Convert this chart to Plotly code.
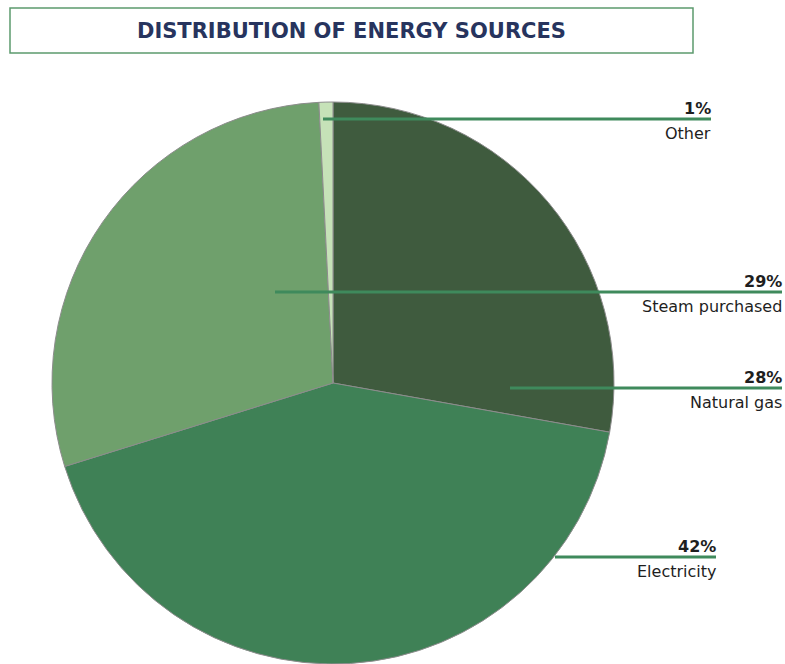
import plotly.graph_objects as go

W, H = 785, 664

sources = ['Natural gas', 'Electricity', 'Steam purchased', 'Other']
shares = [27.8, 42.4, 29.0, 0.8]
colors = ['#3f5b3e', '#3f8156', '#6fa06c', '#c6e2b8']

# label layout: right edge x, line y, line start x (pixels)
label_pos = {
    'Other': (711, 119, 323),
    'Steam purchased': (782, 292, 275),
    'Natural gas': (782, 388, 510),
    'Electricity': (716, 557, 555),
}


def fx(x):
    return x / W


def fy(y):
    return 1 - y / H


fig = go.Figure(go.Pie(
    labels=sources,
    values=shares,
    sort=False,
    direction='clockwise',
    rotation=0,
    marker=dict(colors=colors, line=dict(color='#8c8c8c', width=1)),
    textinfo='none',
    hoverinfo='label+percent',
    domain=dict(x=[fx(52), fx(614)], y=[0, fy(102)]),
    showlegend=False,
))

label_font = dict(family='DejaVu Sans', size=16, color='#1e1e1e')

total = sum(shares)
shapes = []
annotations = []
for name, val in zip(sources, shares):
    xr, yl, xs = label_pos[name]
    shapes.append(dict(type='line', xref='paper', yref='paper',
                       x0=fx(xs), x1=fx(xr), y0=fy(yl), y1=fy(yl),
                       line=dict(color='#3f8a5c', width=3)))
    annotations.append(dict(xref='paper', yref='paper', x=fx(xr + 2), y=fy(yl + 1),
                            xanchor='right', yanchor='bottom', showarrow=False,
                            text='<b>%d%%</b>' % round(val / total * 100),
                            font=label_font))
    annotations.append(dict(xref='paper', yref='paper', x=fx(xr + 2), y=fy(yl + 3),
                            xanchor='right', yanchor='top', showarrow=False,
                            text=name, font=label_font))

# title box
shapes.append(dict(type='rect', xref='paper', yref='paper',
                   x0=fx(10), x1=fx(693), y0=fy(53), y1=fy(8),
                   line=dict(color='#5c9a6e', width=1.5), fillcolor='white'))
annotations.append(dict(xref='paper', yref='paper', x=fx(351), y=fy(31),
                        xanchor='center', yanchor='middle', showarrow=False,
                        text='<b>DISTRIBUTION OF ENERGY SOURCES</b>',
                        font=dict(family='DejaVu Sans', size=21, color='#27345e')))

fig.update_layout(
    width=W, height=H,
    margin=dict(l=0, r=0, t=0, b=0),
    paper_bgcolor='white',
    plot_bgcolor='white',
    shapes=shapes,
    annotations=annotations,
)

fig.write_html("out.html", config={'displayModeBar': False},
               post_script="document.body.style.margin='0';")
